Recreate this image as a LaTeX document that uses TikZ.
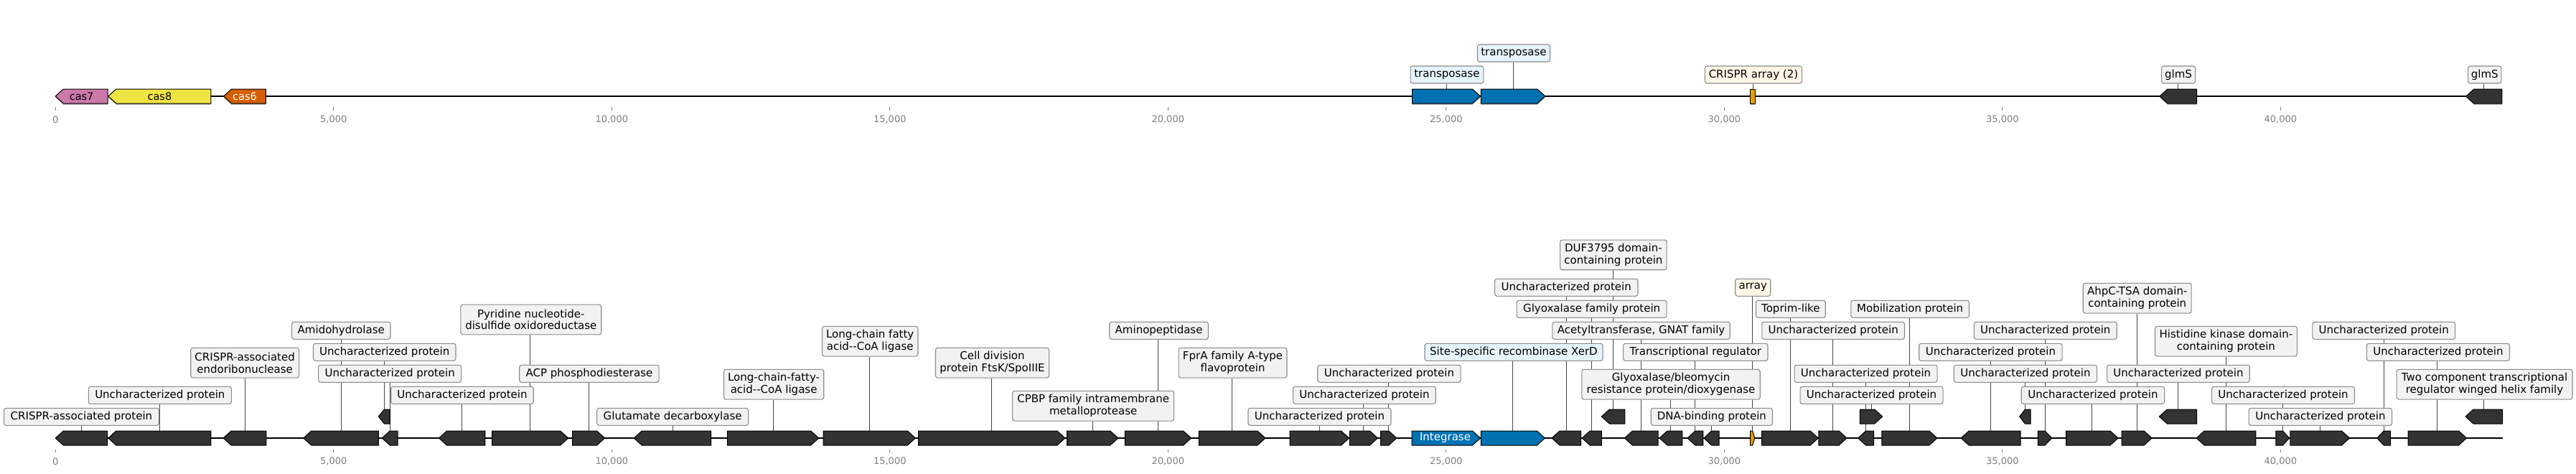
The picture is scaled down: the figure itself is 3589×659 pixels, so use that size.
\documentclass[tikz,border=0pt]{standalone}
\usepackage{fontspec}
\setmainfont{DejaVu Sans}
\usetikzlibrary{calc}
\pgfdeclarelayer{back}
\pgfdeclarelayer{bg}
\pgfsetlayers{back,bg,main}
\definecolor{cpink}{HTML}{CC79A7}
\definecolor{cyellow}{HTML}{F0E442}
\definecolor{cverm}{HTML}{D55E00}
\definecolor{cblue}{HTML}{0072B2}
\definecolor{corange}{HTML}{E69F00}
\definecolor{gdark}{HTML}{333333}
\definecolor{lfill}{HTML}{F2F2F2}
\definecolor{lblue}{HTML}{E6F4FC}
\definecolor{lcream}{HTML}{FFF6E6}
\definecolor{lgray}{HTML}{8C8C8C}
\definecolor{tgray}{HTML}{808080}
\tikzset{
  genebox/.style={draw=black, line width=1pt, line join=miter, fill=gdark},
  topgene/.style={genebox, preaction={draw=none, fill=black!30, transform canvas={yshift=-1.8pt}}},
  genetext/.style={font=\fontsize{14.5}{16}\selectfont, inner sep=0pt},
  lbl/.style={draw=lgray, line width=1.1pt, rounded corners=3pt, fill=lfill,
    font=\fontsize{15}{16.7}\selectfont, align=center, inner xsep=0.5pt, inner ysep=2pt,
    minimum height=24pt},
  lbl2/.style={lbl, minimum height=41.7pt},
  bluelbl/.style={lbl, fill=lblue},
  creamlbl/.style={lbl, fill=lcream},
  conn/.style={draw=black!72, line width=0.9pt},
  axisline/.style={line width=1.8pt, draw=black},
  tickmark/.style={draw=tgray, line width=0.9pt},
  ticklab/.style={text=tgray, font=\fontsize{13}{15}\selectfont, inner sep=0pt},
}
% gene: name, left x, right x, centre y, direction (R/L), style
\newcommand{\gene}[6]{%
  \pgfmathsetmacro{\gh}{min(11,0.5*(#3-#2))}%
  \pgfmathsetmacro{\gm}{(#2+#3)/2}%
  \if#5R
    \draw[#6] (#2,{#4-10}) -- ({#3-\gh},{#4-10}) -- (#3,#4) -- ({#3-\gh},{#4+10}) -- (#2,{#4+10}) -- cycle;
  \else
    \draw[#6] (#3,{#4-10}) -- ({#2+\gh},{#4-10}) -- (#2,#4) -- ({#2+\gh},{#4+10}) -- (#3,{#4+10}) -- cycle;
  \fi
  \coordinate (#1) at (\gm,{#4-10});
}
% label: name, left x, right x, centre y, style, text
\newcommand{\lab}[6]{%
  \node[#5, anchor=west, minimum width={(#3)-(#2)}] (#1) at (#2,#4) {#6};
}
\newcommand{\conn}[2]{\draw[conn] (#1) -- (#1 |- #2.south);}
\begin{document}
\begin{tikzpicture}[x=1pt,y=-1pt]
\useasboundingbox (0,0) rectangle (3589,659);
\begin{pgfonlayer}{back}
  \fill[white] (0,0) rectangle (3589,659);
  \draw[axisline] (77.3,134) -- (3485.8,134);
  \draw[axisline] (77.3,610) -- (3486.5,610);
\end{pgfonlayer}

% ---------- ticks ----------
\foreach \k/\t in {0/0,1/{5,000},2/{10,000},3/{15,000},4/{20,000},5/{25,000},6/{30,000},7/{35,000},8/{40,000}}{
  \pgfmathsetmacro{\tx}{77.3+387.5*\k}
  \draw[tickmark] (\tx,149.3) -- (\tx,154.3);
  \node[ticklab] (tt\k) at (\tx,166.7) {\t};
  \draw[tickmark] (\tx,626) -- (\tx,630);
  \node[ticklab] (bt\k) at (\tx,642.3) {\t};
}

% ---------- top track ----------
\gene{T1}{77.3}{150}{134}{L}{topgene,fill=cpink}
\gene{T2}{150.8}{293.9}{134}{L}{topgene,fill=cyellow}
\gene{T3}{311.5}{370.4}{134}{L}{topgene,fill=cverm}
\gene{T4}{1967.6}{2062.5}{134}{R}{topgene,fill=cblue}
\gene{T5}{2063.3}{2152.8}{134}{R}{topgene,fill=cblue}
\draw[topgene,fill=corange] (2438.7,124) rectangle (2445.5,144);
\coordinate (T6) at (2442.1,124);
\gene{T7}{3008.9}{3060.5}{134}{L}{topgene}
\gene{T8}{3435.8}{3485.8}{134}{L}{topgene}
\node[genetext] (cas7t) at (113.6,134) {cas7};
\node[genetext] (cas8t) at (222.4,134) {cas8};
\node[genetext, text=white] (cas6t) at (341,134) {cas6};

\lab{LT4}{1964.5}{2066.3}{104}{bluelbl}{transposase}
\lab{LT5}{2057.9}{2158.9}{74}{bluelbl}{transposase}
\lab{LT6}{2374.8}{2510}{104}{creamlbl}{CRISPR array (2)}
\lab{LT7}{3011}{3058}{104}{lbl}{glmS}
\lab{LT8}{3438}{3484.3}{104}{lbl}{glmS}

% ---------- bottom track ----------
\gene{B1}{77.3}{149.6}{610}{L}{genebox}
\gene{B2}{150.8}{293.9}{610}{L}{genebox}
\gene{B3}{311.1}{370.8}{610}{L}{genebox}
\gene{B4}{422.8}{527.3}{610}{L}{genebox}
\gene{B5}{532.3}{554.1}{610}{L}{genebox}
\gene{B5r}{527.3}{543.4}{580}{L}{genebox}
\gene{B6}{611.5}{675.8}{610}{L}{genebox}
\gene{B7}{685.7}{791.7}{610}{R}{genebox}
\gene{B8}{797.5}{842.6}{610}{R}{genebox}
\gene{B9}{883.2}{990.7}{610}{L}{genebox}
\gene{B10}{1013.3}{1140.7}{610}{R}{genebox}
\gene{B11}{1147.2}{1275.4}{610}{R}{genebox}
\gene{B12}{1279.6}{1483.9}{610}{R}{genebox}
\gene{B13}{1486.6}{1557.8}{610}{R}{genebox}
\gene{B14}{1567.4}{1659.6}{610}{R}{genebox}
\gene{B15}{1670.3}{1762.9}{610}{R}{genebox}
\gene{B16}{1797}{1879.6}{610}{R}{genebox}
\gene{B17}{1880.4}{1919.4}{610}{R}{genebox}
\gene{B18}{1923.6}{1945.8}{610}{R}{genebox}
\gene{B19}{1967.2}{2062.5}{610}{R}{genebox,fill=cblue}
\gene{B20}{2063.3}{2152.4}{610}{R}{genebox,fill=cblue}
\gene{B21}{2162}{2202.6}{610}{L}{genebox}
\gene{B22}{2204.1}{2231.3}{610}{L}{genebox}
\gene{B22r}{2231.3}{2263.8}{580}{L}{genebox}
\gene{B23}{2263.4}{2310.1}{610}{L}{genebox}
\gene{B24}{2312}{2343.8}{610}{L}{genebox}
\gene{B25}{2351}{2372.8}{610}{L}{genebox}
\gene{B26}{2374}{2395}{610}{L}{genebox}
\gene{Barr}{2438.6}{2444.8}{610}{R}{genebox,fill=corange}
\gene{B27}{2454.7}{2533.2}{610}{R}{genebox}
\gene{B28}{2533.9}{2573}{610}{R}{genebox}
\gene{B29}{2588.6}{2610.5}{610}{L}{genebox}
\gene{B29r}{2591.3}{2622.7}{580}{R}{genebox}
\gene{B30}{2621.9}{2698.9}{610}{R}{genebox}
\gene{B31}{2732.1}{2815.2}{610}{L}{genebox}
\gene{B31r}{2813.7}{2829}{580}{L}{genebox}
\gene{B32}{2839.3}{2858.8}{610}{R}{genebox}
\gene{B33}{2878.7}{2951}{610}{R}{genebox}
\gene{B34}{2956}{2998.1}{610}{R}{genebox}
\gene{B34r}{3008.3}{3060.5}{580}{L}{genebox}
\gene{B35}{3060.1}{3142.8}{610}{L}{genebox}
\gene{B36}{3170.9}{3189.7}{610}{R}{genebox}
\gene{B37}{3190.8}{3273.5}{610}{R}{genebox}
\gene{B38}{3311.8}{3330.6}{610}{L}{genebox}
\gene{B39}{3355}{3436.5}{610}{R}{genebox}
\gene{B39r}{3435}{3486.5}{580}{L}{genebox}
\node[genetext, text=white, font=\fontsize{15}{16}\selectfont] (intt) at (2013.5,610) {Integrase};

\lab{L1}{5}{220.8}{580.3}{lbl}{CRISPR-associated protein}
\lab{L2}{122.8}{321.8}{550.3}{lbl}{Uncharacterized protein}
\lab{L3}{265.2}{416}{505.2}{lbl2}{CRISPR-associated\\endoribonuclease}
\lab{L4}{406}{543.4}{460.3}{lbl}{Amidohydrolase}
\lab{L5}{435.9}{634.4}{490.3}{lbl}{Uncharacterized protein}
\lab{L6}{443.1}{642.1}{520.3}{lbl}{Uncharacterized protein}
\lab{L7}{544.2}{742.7}{550.3}{lbl}{Uncharacterized protein}
\lab{L8}{641.3}{837.2}{445}{lbl2}{Pyridine nucleotide-\\disulfide oxidoreductase}
\lab{L9}{723.2}{917.6}{520.3}{lbl}{ACP phosphodiesterase}
\lab{L10}{831.1}{1042}{580.3}{lbl}{Glutamate decarboxylase}
\lab{L11}{1007.9}{1147.2}{535.2}{lbl2}{Long-chain-fatty-\\acid-{}-CoA ligase}
\lab{L12}{1144.9}{1278.4}{475.2}{lbl2}{Long-chain fatty\\acid-{}-CoA ligase}
\lab{L13}{1302.9}{1461}{505.2}{lbl2}{Cell division\\protein FtsK/SpoIIIE}
\lab{L14}{1410.1}{1635.1}{565.2}{lbl2}{CPBP family intramembrane\\metalloprotease}
\lab{L15}{1545.2}{1682.9}{460.3}{lbl}{Aminopeptidase}
\lab{L16}{1641.6}{1792.4}{505.2}{lbl2}{FprA family A-type\\flavoprotein}
\lab{L17}{1738.4}{1937.4}{580.3}{lbl}{Uncharacterized protein}
\lab{L18}{1801.1}{1999.7}{550.3}{lbl}{Uncharacterized protein}
\lab{L19}{1835.2}{2034.6}{520.3}{lbl}{Uncharacterized protein}
\lab{L20}{1984.4}{2232.4}{490.3}{bluelbl}{Site-specific recombinase XerD}
\lab{L21}{2173.1}{2321.6}{354.9}{lbl2}{DUF3795 domain-\\containing protein}
\lab{L22}{2082}{2281.4}{400.3}{lbl}{Uncharacterized protein}
\lab{L23}{2112.6}{2321.6}{430.3}{lbl}{Glyoxalase family protein}
\lab{L24}{2162.3}{2409.7}{460.3}{lbl}{Acetyltransferase, GNAT family}
\lab{L25}{2261.1}{2462.4}{490.3}{lbl}{Transcriptional regulator}
\lab{L26}{2203.3}{2451.7}{535.2}{lbl2}{Glyoxalase/bleomycin\\resistance protein/dioxygenase}
\lab{L27}{2299.7}{2468.9}{580.3}{lbl}{DNA-binding protein}
\lab{L28}{2417.2}{2466.2}{400.3}{creamlbl}{array}
\lab{L29}{2445.9}{2542.7}{430.3}{lbl}{Toprim-like}
\lab{L30}{2578.3}{2742.9}{430.3}{lbl}{Mobilization protein}
\lab{L31}{2454.3}{2652.9}{460.3}{lbl}{Uncharacterized protein}
\lab{L32}{2499.5}{2698.5}{520.3}{lbl}{Uncharacterized protein}
\lab{L33}{2507.5}{2706.5}{550.3}{lbl}{Uncharacterized protein}
\lab{L34}{2749.8}{2948.7}{460.3}{lbl}{Uncharacterized protein}
\lab{L35}{2673.2}{2872.6}{490.3}{lbl}{Uncharacterized protein}
\lab{L36}{2721.7}{2921}{520.3}{lbl}{Uncharacterized protein}
\lab{L37}{2815.7}{3015}{550.3}{lbl}{Uncharacterized protein}
\lab{L38}{2901.7}{3052.6}{415.2}{lbl2}{AhpC-TSA domain-\\containing protein}
\lab{L39}{2935}{3133.7}{520.3}{lbl}{Uncharacterized protein}
\lab{L40}{3001.9}{3199.8}{475.2}{lbl2}{Histidine kinase domain-\\containing protein}
\lab{L41}{3081.1}{3279.9}{550.3}{lbl}{Uncharacterized protein}
\lab{L42}{3132.6}{3332.1}{580.3}{lbl}{Uncharacterized protein}
\lab{L43}{3221.3}{3420}{460.3}{lbl}{Uncharacterized protein}
\lab{L44}{3296.8}{3495.9}{490.3}{lbl}{Uncharacterized protein}
\lab{L45}{3338.5}{3583.4}{535.2}{lbl2}{Two component transcriptional\\regulator winged helix family}

% ---------- connectors (behind boxes) ----------
\begin{pgfonlayer}{bg}
  \conn{T4}{LT4} \conn{T5}{LT5} \conn{T6}{LT6} \conn{T7}{LT7} \conn{T8}{LT8}
  \conn{B1}{L1} \conn{B2}{L2} \conn{B3}{L3} \conn{B4}{L4} \conn{B5r}{L5}
  \conn{B5}{L6} \conn{B6}{L7} \conn{B7}{L8} \conn{B8}{L9} \conn{B9}{L10}
  \conn{B10}{L11} \conn{B11}{L12} \conn{B12}{L13} \conn{B13}{L14} \conn{B14}{L15}
  \conn{B15}{L16} \conn{B16}{L17} \conn{B17}{L18} \conn{B18}{L19} \conn{B20}{L20}
  \conn{B22r}{L21} \conn{B21}{L22} \conn{B22}{L23} \conn{B23}{L24} \conn{B25}{L25}
  \conn{B24}{L26} \conn{B26}{L27} \conn{Barr}{L28} \conn{B27}{L29} \conn{B30}{L30}
  \conn{B28}{L31} \conn{B29}{L32} \conn{B29r}{L33} \conn{B32}{L34} \conn{B31}{L35}
  \conn{B31r}{L36} \conn{B33}{L37} \conn{B34}{L38} \conn{B34r}{L39} \conn{B35}{L40}
  \conn{B36}{L41} \conn{B37}{L42} \conn{B38}{L43} \conn{B39}{L44} \conn{B39r}{L45}
\end{pgfonlayer}
\end{tikzpicture}
\end{document}
